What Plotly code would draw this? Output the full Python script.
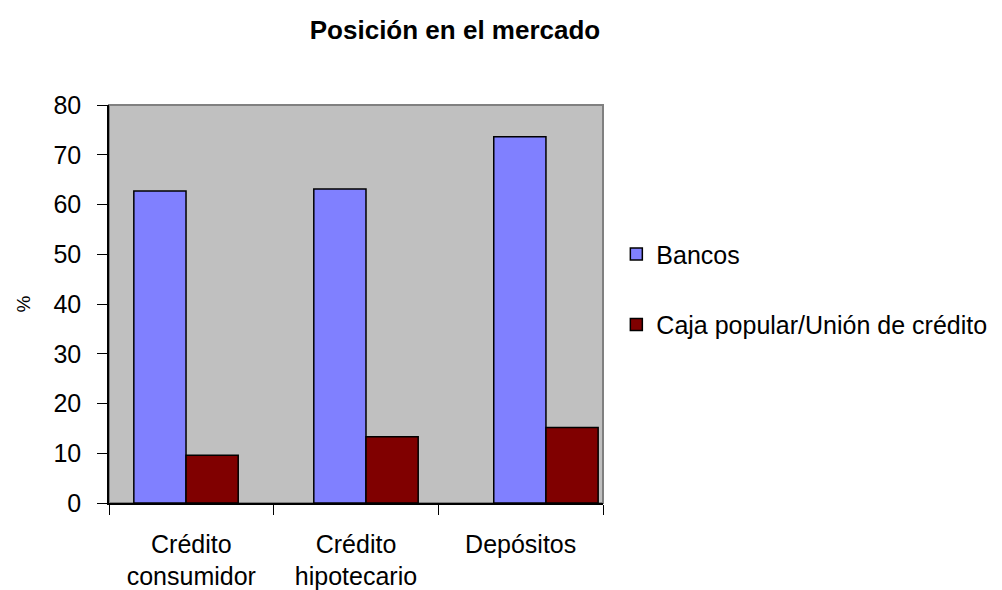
import plotly.graph_objects as go

categories = ["Crédito<br>consumidor", "Crédito<br>hipotecario", "Depósitos"]
bancos = [62.7, 63.1, 73.6]
caja = [9.6, 13.3, 15.2]
series_names = ["Bancos", "Caja popular/Unión de crédito"]
y_ticks = [0, 10, 20, 30, 40, 50, 60, 70, 80]

FONT = "Liberation Sans, Arial, sans-serif"

fig = go.Figure()
fig.add_trace(go.Bar(x=categories, y=bancos, name=series_names[0],
                     marker=dict(color="#8080FF", line=dict(color="black", width=1.5)),
                     legendgroup="a"))
fig.add_trace(go.Bar(x=categories, y=caja, name=series_names[1],
                     marker=dict(color="#800000", line=dict(color="black", width=1.5)),
                     legendgroup="b"))
# invisible helper trace to carry the visible category axis
fig.add_trace(go.Scatter(x=categories, y=bancos, xaxis="x2", mode="markers",
                         marker=dict(opacity=0), showlegend=False, hoverinfo="skip"))

fig.update_layout(
    width=994, height=582,
    margin=dict(l=101, r=399, t=97, b=87, autoexpand=False),
    paper_bgcolor="white", plot_bgcolor="#C0C0C0",
    barmode="group", bargap=0.42, bargroupgap=0,
    font=dict(family=FONT, size=25, color="black"),
    title=dict(text="<b>Posición en el mercado</b>", x=0.4497, xref="container", xanchor="center",
               y=0.962, yref="container", yanchor="middle",
               font=dict(family=FONT, size=26, color="black")),
    xaxis=dict(type="category", range=[-0.428, 2.317], showticklabels=False,
               showline=False, ticks="", showgrid=False, zeroline=False, automargin=False),
    xaxis2=dict(type="category", overlaying="x", anchor="y", side="bottom",
                range=[-0.5, 2.5], tickson="boundaries", ticks="outside", ticklen=10,
                tickcolor="black", showline=True, linecolor="black", linewidth=1.5,
                showgrid=False, zeroline=False, ticklabelstandoff=18, automargin=False,
                tickfont=dict(family=FONT, size=25, color="black")),
    yaxis=dict(range=[0, 80], tickvals=y_ticks, ticks="outside", ticklen=10,
               tickcolor="black", showline=True, linecolor="black", linewidth=1.5,
               showgrid=False, zeroline=False, ticklabelstandoff=11, automargin=False,
               tickfont=dict(family=FONT, size=25, color="black"),
               title=dict(text="%", font=dict(family=FONT, size=19, color="black"), standoff=18)),
    legend=dict(x=1.027, y=0.683, xanchor="left", yanchor="top",
                font=dict(family=FONT, size=25, color="black"),
                tracegroupgap=35, traceorder="grouped", bgcolor="rgba(0,0,0,0)"),
    showlegend=True,
)
fig.add_shape(type="rect", xref="paper", yref="paper", x0=0, y0=0, x1=1, y1=1,
              line=dict(color="#808080", width=2), layer="below")

fig.write_html("out.html")
